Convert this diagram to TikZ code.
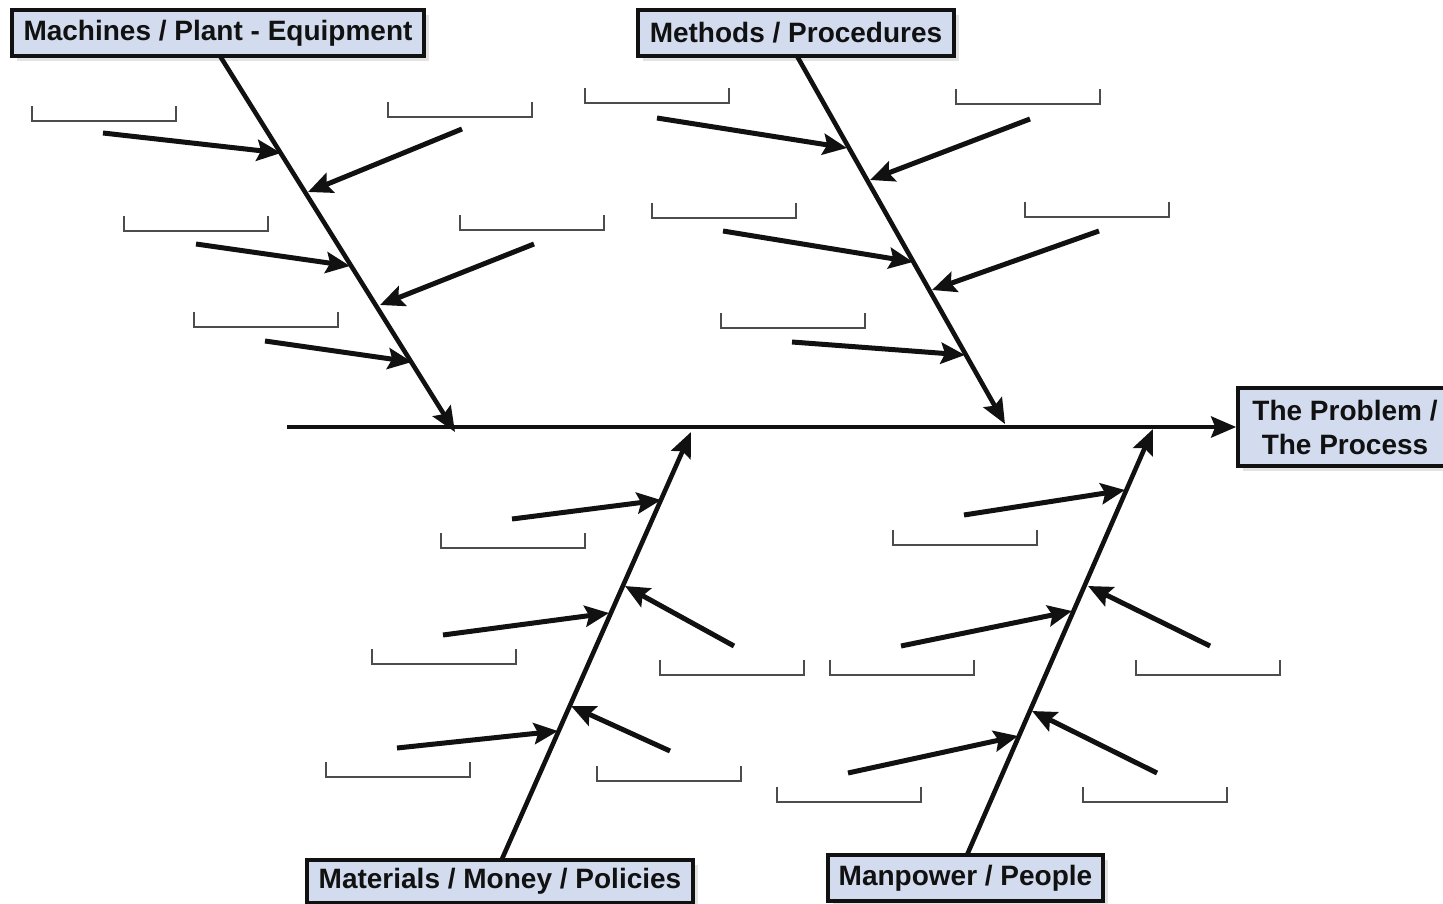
\documentclass[tikz,border=0pt]{standalone}
\usepackage{fontspec}
\setmainfont{Liberation Sans}
\usetikzlibrary{arrows.meta,shadows}
\definecolor{boxfill}{RGB}{210,220,238}
\definecolor{ink}{RGB}{17,17,17}
\tikzset{
  catbox/.style={draw=ink, line width=3.6pt, fill=boxfill, text=ink,
    font=\fontsize{28}{34}\selectfont\bfseries, inner sep=0pt, align=center,
    drop shadow={shadow xshift=5pt, shadow yshift=-5pt, opacity=0.22, fill=gray}},
  bone/.style={draw=ink, line width=4.6pt, -{Stealth[length=25pt,width=21pt,inset=4pt]}},
  rib/.style={draw=ink, line width=5pt, -{Stealth[length=24pt,width=21pt,inset=4pt]}},
  slot/.style={draw=ink!75, line width=1.8pt},
}
\begin{document}
\begin{tikzpicture}[x=1pt,y=-1pt]
\useasboundingbox (0,0) rectangle (1443,904);
\fill[white] (0,0) rectangle (1443,904);

% category boxes
\node[catbox, minimum width=412pt, minimum height=46pt] (mach) at (218,33) {Machines / Plant - Equipment};
\node[catbox, minimum width=316pt, minimum height=46pt] (meth) at (796,33) {Methods / Procedures};
\node[catbox, minimum width=214pt, minimum height=78pt] (prob) at (1345,427) {The Problem /\\The Process};
\node[catbox, minimum width=386pt, minimum height=43pt] (matl) at (500,881.5) {Materials / Money / Policies};
\node[catbox, minimum width=275pt, minimum height=46pt] (manp) at (965.5,878) {Manpower / People};

% spine
\coordinate (sp0) at (287,427);
\draw[bone] (sp0) -- (prob.west |- sp0);

% bones
\coordinate (b1s) at (220,56);  \coordinate (b1e) at (455,432);
\coordinate (b2s) at (797,56);  \coordinate (b2e) at (1005,424);
\coordinate (b3s) at (502,859); \coordinate (b3e) at (691,432);
\coordinate (b4s) at (967,855); \coordinate (b4e) at (1153,429);
\draw[bone] (b1s) -- (b1e);
\draw[bone] (b2s) -- (b2e);
\draw[bone] (b3s) -- (b3e);
\draw[bone] (b4s) -- (b4e);

% ribs: bone 1
\coordinate (r1a) at (103,133); \coordinate (t1a) at (281,153);
\coordinate (r1b) at (462,129); \coordinate (t1b) at (308,192);
\coordinate (r1c) at (196,244); \coordinate (t1c) at (350,266);
\coordinate (r1d) at (534,244); \coordinate (t1d) at (380,305);
\coordinate (r1e) at (265,341); \coordinate (t1e) at (412,362);
% ribs: bone 2
\coordinate (r2a) at (657,118); \coordinate (t2a) at (847,148);
\coordinate (r2b) at (1030,119); \coordinate (t2b) at (870,180);
\coordinate (r2c) at (723,231); \coordinate (t2c) at (913,262);
\coordinate (r2d) at (1099,231); \coordinate (t2d) at (932,290);
\coordinate (r2e) at (792,342); \coordinate (t2e) at (965,355);
% ribs: bone 3
\coordinate (r3a) at (512,519); \coordinate (t3a) at (661,500);
\coordinate (r3b) at (734,646); \coordinate (t3b) at (625,586);
\coordinate (r3c) at (443,635); \coordinate (t3c) at (609,613);
\coordinate (r3d) at (670,751); \coordinate (t3d) at (571,706);
\coordinate (r3e) at (397,748); \coordinate (t3e) at (558,731);
% ribs: bone 4
\coordinate (r4a) at (964,515); \coordinate (t4a) at (1125,490);
\coordinate (r4b) at (1210,646); \coordinate (t4b) at (1088,586);
\coordinate (r4c) at (901,646); \coordinate (t4c) at (1072,611);
\coordinate (r4d) at (1157,773); \coordinate (t4d) at (1032,711);
\coordinate (r4e) at (848,773); \coordinate (t4e) at (1018,736);

\foreach \i in {1,2,3,4}{
  \foreach \j in {a,b,c,d,e}{
    \draw[rib] (r\i\j) -- (t\i\j);
  }
}

% blank label slots
\foreach \x/\y in {32/106, 388/102, 124/216, 460/215, 194/312,
                   585/88, 956/89, 652/203, 1025/202, 721/313,
                   441/533, 372/649, 660/660, 326/762, 597/766,
                   893/530, 830/660, 1136/660, 777/787, 1083/787}{
  \draw[slot] (\x,\y) -- (\x,\y+15) -- (\x+144,\y+15) -- (\x+144,\y);
}
\end{tikzpicture}
\end{document}
